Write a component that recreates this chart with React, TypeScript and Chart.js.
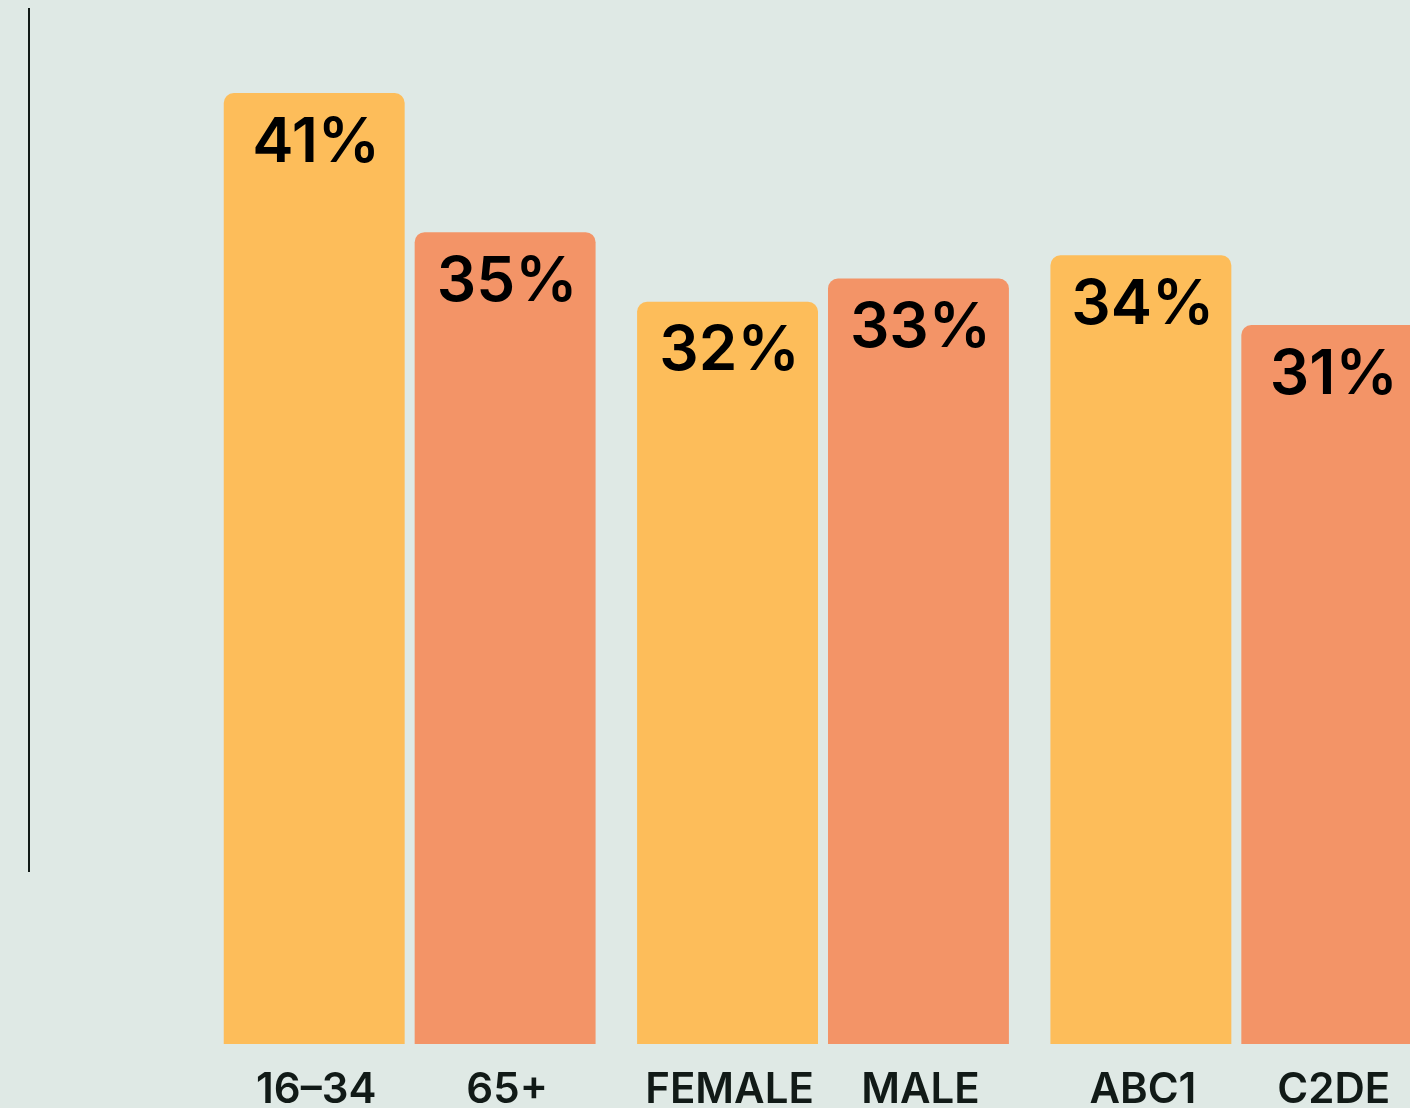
import React, { useEffect, useRef } from "react";
import { Chart, registerables } from "chart.js";

Chart.register(...registerables);

// Groups (x categories) and the two series
const groups = ["Age", "Gender", "Social grade"];
const firstBarLabels = ["16–34", "FEMALE", "ABC1"];
const secondBarLabels = ["65+", "MALE", "C2DE"];
const firstBarValues = [41, 32, 34];
const secondBarValues = [35, 33, 31];

const BG = "#DFE9E5";
const YELLOW = "#FDBD5A";
const ORANGE = "#F39467";
const INK = "#111A17";

const CANVAS_W = 1460;
const CANVAS_H = 1130;

const labelPlugin = {
  id: "barLabels",
  afterDatasetsDraw(chart: any) {
    const ctx = chart.ctx;
    const bottom = chart.chartArea.bottom;
    const catLabels = [firstBarLabels, secondBarLabels];
    chart.data.datasets.forEach((ds: any, di: number) => {
      const meta = chart.getDatasetMeta(di);
      meta.data.forEach((bar: any, i: number) => {
        const v = ds.data[i];
        ctx.save();
        ctx.fillStyle = "#000000";
        ctx.font = "600 62px Inter";
        ctx.textAlign = "center";
        ctx.textBaseline = "middle";
        ctx.fillText(v + "%", bar.x + 2, bar.y + 50);
        ctx.fillStyle = INK;
        ctx.font = "600 42px Inter";
        ctx.textBaseline = "alphabetic";
        ctx.fillText(catLabels[di][i], bar.x + 2, bottom + 59);
        ctx.restore();
      });
    });
  },
};

export default function App() {
  const ref = useRef<HTMLCanvasElement>(null);

  useEffect(() => {
    if (!ref.current) return;
    const chart = new Chart(ref.current, {
      type: "bar",
      data: {
        labels: groups,
        datasets: [
          {
            data: firstBarValues,
            backgroundColor: YELLOW,
            borderRadius: { topLeft: 10, topRight: 10, bottomLeft: 0, bottomRight: 0 },
            borderSkipped: false,
            barPercentage: 0.9476,
            categoryPercentage: 0.9238,
          },
          {
            data: secondBarValues,
            backgroundColor: ORANGE,
            borderRadius: { topLeft: 10, topRight: 10, bottomLeft: 0, bottomRight: 0 },
            borderSkipped: false,
            barPercentage: 0.9476,
            categoryPercentage: 0.9238,
          },
        ],
      },
      options: {
        responsive: false,
        animation: false,
        devicePixelRatio: 1,
        layout: { padding: { left: 203, right: 17, top: 93, bottom: 86 } },
        plugins: { legend: { display: false }, tooltip: { enabled: false } },
        scales: {
          x: { display: false, grid: { display: false } },
          y: { display: false, min: 0, max: 41, grid: { display: false } },
        },
      },
      plugins: [labelPlugin],
    });
    return () => chart.destroy();
  }, []);

  return (
    <div
      style={{
        position: "fixed",
        left: 0,
        top: 0,
        width: 1410,
        height: 1108,
        overflow: "hidden",
        background: BG,
      }}
    >
      <div
        style={{
          position: "absolute",
          left: 28,
          top: 8,
          width: 2,
          height: 864,
          background: INK,
        }}
      />
      <canvas
        ref={ref}
        width={CANVAS_W}
        height={CANVAS_H}
        style={{ position: "absolute", left: 0, top: 0, width: CANVAS_W, height: CANVAS_H }}
      />
    </div>
  );
}
